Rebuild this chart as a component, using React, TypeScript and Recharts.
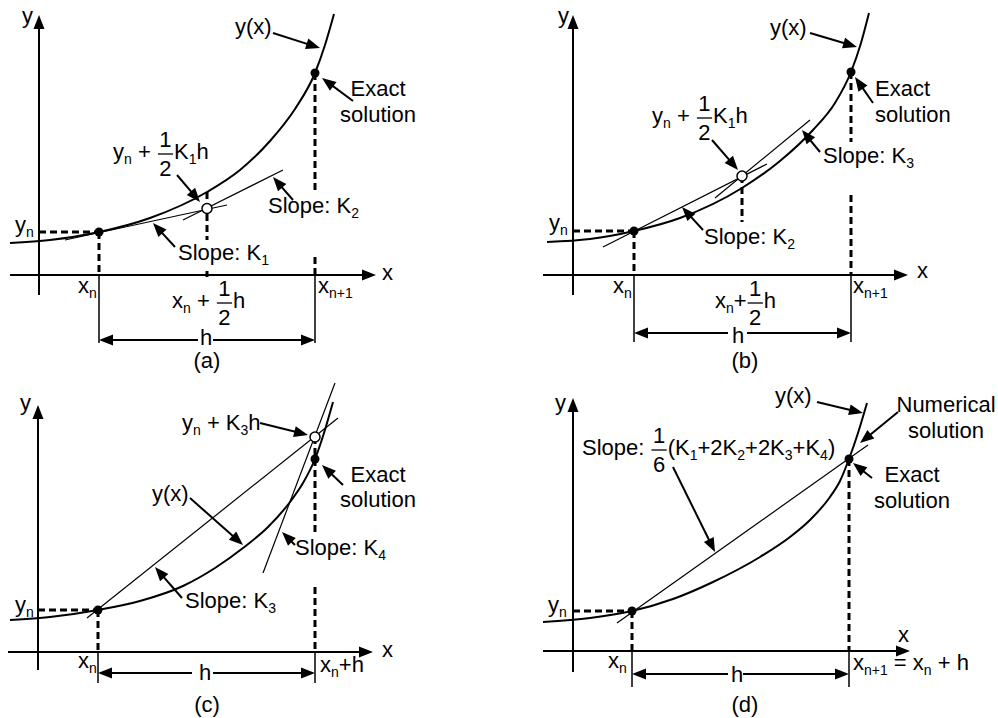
import React from 'react';
import { ComposedChart, Line, XAxis, YAxis, ReferenceLine, ReferenceDot } from 'recharts';

type Pt = { x: number; y: number };
type Part = { t: string; sub?: boolean } | { num: string; den: string };

// ---------------- data (panel units, origin at the axes crossing) ----------------
// Panel (a)
const curveA: Pt[] = [
  { x: -2.9, y: 3.2 }, { x: 1.1, y: 3.5 }, { x: 6.0, y: 4.3 }, { x: 11.1, y: 5.7 },
  { x: 16.8, y: 8.3 }, { x: 20.1, y: 10.5 }, { x: 23.1, y: 13.4 }, { x: 25.6, y: 16.6 },
  { x: 27.6, y: 20.2 }, { x: 28.6, y: 23.0 }, { x: 29.5, y: 26.1 },
];
const stepA = { xn: 6.0, yn: 4.3, xn1: 27.6, yn1: 20.2, xm: 16.8, ym: 6.65 };
const slopeK1A: Pt[] = [{ x: 2.6, y: 3.5 }, { x: 18.8, y: 7.0 }];
const slopeK2A: Pt[] = [{ x: 14.4, y: 5.5 }, { x: 24.4, y: 10.5 }];

// Panel (b)
const curveB: Pt[] = [
  { x: -2.6, y: 3.3 }, { x: 1.7, y: 3.6 }, { x: 6.1, y: 4.4 }, { x: 10.7, y: 5.7 },
  { x: 16.9, y: 8.7 }, { x: 20.7, y: 11.4 }, { x: 24.0, y: 14.5 }, { x: 26.2, y: 17.2 },
  { x: 27.8, y: 20.3 }, { x: 28.8, y: 23.2 }, { x: 29.6, y: 26.2 },
];
const stepB = { xn: 6.1, yn: 4.4, xn1: 27.8, yn1: 20.3, xm: 16.9, ym: 9.9 };
const slopeK2B: Pt[] = [{ x: 3.0, y: 2.8 }, { x: 19.4, y: 11.1 }];
const slopeK3B: Pt[] = [{ x: 14.2, y: 7.7 }, { x: 23.7, y: 15.5 }];

// Panel (c)
const curveC: Pt[] = [
  { x: -2.8, y: 3.2 }, { x: 1.2, y: 3.5 }, { x: 6.0, y: 4.2 }, { x: 10.2, y: 5.1 },
  { x: 14.5, y: 6.6 }, { x: 17.7, y: 8.4 }, { x: 20.5, y: 10.4 }, { x: 23.0, y: 12.5 },
  { x: 25.2, y: 15.0 }, { x: 26.5, y: 16.9 }, { x: 27.7, y: 19.3 }, { x: 28.6, y: 21.9 },
  { x: 29.5, y: 25.0 },
];
const stepC = { xn: 6.0, yn: 4.2, xn1: 27.7, yn1: 19.3, yk3: 21.5 };
const slopeK3C: Pt[] = [{ x: 4.9, y: 3.4 }, { x: 30.0, y: 23.4 }];
const slopeK4C: Pt[] = [{ x: 22.5, y: 7.9 }, { x: 29.7, y: 26.9 }];

// Panel (d)
const curveD: Pt[] = [
  { x: -3.0, y: 2.9 }, { x: 1.7, y: 3.3 }, { x: 5.9, y: 4.0 }, { x: 10.0, y: 5.2 },
  { x: 14.0, y: 6.9 }, { x: 18.7, y: 9.4 }, { x: 21.7, y: 11.4 }, { x: 23.7, y: 13.1 },
  { x: 25.7, y: 15.4 }, { x: 26.7, y: 17.0 }, { x: 27.6, y: 19.2 }, { x: 28.5, y: 21.8 },
  { x: 29.4, y: 24.8 },
];
const stepD = { xn: 5.9, yn: 4.0, xn1: 27.6, yn1: 19.2 };
const numericalD: Pt[] = [{ x: 4.4, y: 2.8 }, { x: 29.5, y: 20.6 }];

// ---------------- text helpers ----------------
const FS = 22;
const SFS = 14;
const FONT = '"Liberation Sans", Arial, Helvetica, sans-serif';
const CW: Record<string, number> = {
  ' ': 0.278, '(': 0.333, ')': 0.333, '+': 0.584, '=': 0.584, ':': 0.278,
  a: 0.556, b: 0.556, c: 0.5, d: 0.556, e: 0.556, h: 0.556, i: 0.222, l: 0.222, m: 0.833,
  n: 0.556, o: 0.556, p: 0.556, r: 0.333, s: 0.5, t: 0.278, u: 0.556, x: 0.5, y: 0.5,
  E: 0.667, K: 0.667, N: 0.722, S: 0.667,
};
const tw = (s: string, fs: number) => {
  let w = 0;
  for (const c of s) w += CW[c] ?? 0.556;
  return w * fs;
};
const T = (t: string): Part => ({ t });
const S = (t: string): Part => ({ t, sub: true });
const F = (num: string, den: string): Part => ({ num, den });

function RichText({ x, y, parts, anchor }: { x: number; y: number; parts: Part[]; anchor: string }) {
  let cur = 0;
  const lay: any[] = [];
  for (const p of parts) {
    if ('num' in p) {
      const w = Math.max(tw(p.num, FS), tw(p.den, FS)) + 3;
      lay.push({ kind: 'frac', x: cur + 1, w, p });
      cur += w + 2;
    } else {
      const fs = p.sub ? SFS : FS;
      lay.push({ kind: 'text', x: cur, p, fs });
      cur += tw(p.t, fs);
    }
  }
  const x0 = anchor === 'middle' ? x - cur / 2 : x;
  return (
    <g fontFamily={FONT} fill="#000">
      {lay.map((it, i) =>
        it.kind === 'frac' ? (
          <g key={i}>
            <text x={x0 + it.x + it.w / 2} y={y - 12} fontSize={FS} textAnchor="middle">{it.p.num}</text>
            <line x1={x0 + it.x} x2={x0 + it.x + it.w} y1={y - 5} y2={y - 5} stroke="#000" strokeWidth={1.3} />
            <text x={x0 + it.x + it.w / 2} y={y + 17} fontSize={FS} textAnchor="middle">{it.p.den}</text>
          </g>
        ) : (
          <text key={i} x={x0 + it.x} y={it.p.sub ? y + 5 : y} fontSize={it.fs} xmlSpace="preserve" style={{ whiteSpace: 'pre' }}>
            {it.p.t}
          </text>
        )
      )}
    </g>
  );
}

function ArrowShape(p: any) {
  const { x1, y1, x2, y2 } = p;
  const sw = p.strokeWidth ?? 2;
  const dx = x2 - x1;
  const dy = y2 - y1;
  const L = Math.hypot(dx, dy) || 1;
  const ux = dx / L;
  const uy = dy / L;
  const hl = 14;
  const hw = 5.5;
  const bx = x2 - ux * hl;
  const by = y2 - uy * hl;
  const pts = `${x2},${y2} ${bx - uy * hw},${by + ux * hw} ${bx + uy * hw},${by - ux * hw}`;
  return (
    <g>
      <line x1={x1} y1={y1} x2={bx + ux * 2} y2={by + uy * 2} stroke="#000" strokeWidth={sw} />
      <polygon points={pts} fill="#000" />
    </g>
  );
}

const segLine = (key: string, a: Pt, b: Pt, sw = 1.2) => (
  <ReferenceLine key={key} segment={[a, b]} ifOverflow="visible" stroke="#000" strokeWidth={sw} />
);
const dashLine = (key: string, a: Pt, b: Pt) => (
  <ReferenceLine key={key} segment={[a, b]} ifOverflow="visible" stroke="#000" strokeWidth={3} strokeDasharray="7 4" />
);
const arrowLine = (key: string, a: Pt, b: Pt, sw = 2) => (
  <ReferenceLine key={key} segment={[a, b]} ifOverflow="visible" stroke="#000" strokeWidth={sw} shape={ArrowShape} />
);
const dotAt = (key: string, x: number, y: number, open = false) => (
  <ReferenceDot key={key} x={x} y={y} r={open ? 5 : 4.5} fill={open ? '#fff' : '#000'} stroke="#000" strokeWidth={open ? 1.5 : 0} ifOverflow="visible" />
);
const label = (key: string, x: number, y: number, parts: Part[], anchor = 'start') => (
  <ReferenceDot
    key={key}
    x={x}
    y={y}
    r={0}
    ifOverflow="visible"
    shape={(p: any) => <RichText x={p.cx} y={p.cy} parts={parts} anchor={anchor} />}
  />
);
const curve = (key: string, data: Pt[]) => (
  <Line key={key} data={data} dataKey="y" type="monotone" stroke="#000" strokeWidth={2} dot={false} activeDot={false} isAnimationActive={false} />
);

function Panel({ left, top, width, height, xd, yd, children }: any) {
  return (
    <div style={{ position: 'absolute', left, top, width, height }}>
      <ComposedChart width={width} height={height} margin={{ top: 0, right: 0, bottom: 0, left: 0 }}>
        <XAxis type="number" dataKey="x" domain={xd} hide allowDataOverflow />
        <YAxis type="number" dataKey="y" domain={yd} hide allowDataOverflow />
        {children}
      </ComposedChart>
    </div>
  );
}

export default function App() {
  const A = stepA;
  const B = stepB;
  const C = stepC;
  const D = stepD;
  return (
    <div style={{ position: 'absolute', left: 0, top: 0, width: 998, height: 718, background: '#fff', overflow: 'hidden' }}>
      {/* ---------------- (a) ---------------- */}
      <Panel left={-1} top={0} width={480} height={377} xd={[-4, 44]} yd={[-10.2, 27.5]}>
        {[
          arrowLine('ya', { x: 0, y: -2.0 }, { x: 0, y: 26.0 }),
          arrowLine('xa', { x: -2.9, y: 0 }, { x: 33.7, y: 0 }),
          curve('c', curveA),
          segLine('k1', slopeK1A[0], slopeK1A[1]),
          segLine('k2', slopeK2A[0], slopeK2A[1]),
          dashLine('hy', { x: 0, y: A.yn }, { x: A.xn, y: A.yn }),
          dashLine('vxn', { x: A.xn, y: A.yn }, { x: A.xn, y: 0 }),
          segLine('exn', { x: A.xn, y: 0 }, { x: A.xn, y: -6.8 }, 1.5),
          dashLine('vx1a', { x: A.xn1, y: A.yn1 }, { x: A.xn1, y: 8.2 }),
          dashLine('vx1b', { x: A.xn1, y: 1.8 }, { x: A.xn1, y: 0 }),
          segLine('ex1', { x: A.xn1, y: 0 }, { x: A.xn1, y: -6.8 }, 1.5),
          dashLine('vm', { x: A.xm, y: 8.3 }, { x: A.xm, y: 3.5 }),
          dashLine('vm2', { x: A.xm, y: 0.4 }, { x: A.xm, y: -0.2 }),
          arrowLine('h1', { x: 15.9, y: -6.5 }, { x: A.xn, y: -6.5 }),
          arrowLine('h2', { x: 17.4, y: -6.5 }, { x: A.xn1, y: -6.5 }),
          dotAt('d1', A.xn, A.yn),
          dotAt('d2', A.xn1, A.yn1),
          dotAt('d3', A.xm, A.ym, true),
          arrowLine('ayx', { x: 23.4, y: 24.2 }, { x: 28.1, y: 22.7 }),
          arrowLine('aex', { x: 31.4, y: 17.4 }, { x: 28.3, y: 19.7 }),
          arrowLine('ayk', { x: 13.8, y: 10.0 }, { x: 16.1, y: 7.3 }),
          arrowLine('ak2', { x: 25.4, y: 7.5 }, { x: 23.4, y: 9.8 }),
          arrowLine('ak1', { x: 13.6, y: 2.8 }, { x: 11.4, y: 5.2 }),
          label('ly', -1.7, 25.2, [T('y')]),
          label('lx', 34.3, -0.5, [T('x')]),
          label('lyn', -2.4, 4.3, [T('y'), S('n')]),
          label('lxn', 3.9, -1.8, [T('x'), S('n')]),
          label('lxn1', 27.9, -1.8, [T('x'), S('n+1')]),
          label('lmid', 13.3, -3.3, [T('x'), S('n'), T(' + '), F('1', '2'), T('h')]),
          label('lyk', 7.4, 11.6, [T('y'), S('n'), T(' + '), F('1', '2'), T('K'), S('1'), T('h')]),
          label('lyx', 19.6, 24.1, [T('y(x)')]),
          label('le1', 33.9, 17.9, [T('Exact')], 'middle'),
          label('le2', 33.9, 15.3, [T('solution')], 'middle'),
          label('lk2', 22.9, 6.2, [T('Slope: K'), S('2')]),
          label('lk1', 13.9, 1.5, [T('Slope: K'), S('1')]),
          label('lh', 16.7, -7.0, [T('h')], 'middle'),
          label('lcap', 16.8, -9.3, [T('(a)')], 'middle'),
        ]}
      </Panel>

      {/* ---------------- (b) ---------------- */}
      <Panel left={533} top={0} width={465} height={377} xd={[-4, 42.5]} yd={[-10.2, 27.5]}>
        {[
          arrowLine('ya', { x: 0, y: -2.0 }, { x: 0, y: 26.0 }),
          arrowLine('xa', { x: -3.0, y: 0 }, { x: 33.5, y: 0 }),
          curve('c', curveB),
          segLine('k2', slopeK2B[0], slopeK2B[1]),
          segLine('k3', slopeK3B[0], slopeK3B[1]),
          dashLine('hy', { x: 0, y: B.yn }, { x: B.xn, y: B.yn }),
          dashLine('vxn', { x: B.xn, y: B.yn }, { x: B.xn, y: 0 }),
          segLine('exn', { x: B.xn, y: 0 }, { x: B.xn, y: -6.7 }, 1.5),
          dashLine('vx1a', { x: B.xn1, y: B.yn1 }, { x: B.xn1, y: 13.3 }),
          dashLine('vx1b', { x: B.xn1, y: 8.0 }, { x: B.xn1, y: 0 }),
          segLine('ex1', { x: B.xn1, y: 0 }, { x: B.xn1, y: -6.7 }, 1.5),
          dashLine('vm', { x: B.xm, y: B.ym }, { x: B.xm, y: 5.3 }),
          arrowLine('h1', { x: 15.5, y: -5.8 }, { x: B.xn, y: -5.8 }),
          arrowLine('h2', { x: 17.4, y: -5.8 }, { x: B.xn1, y: -5.8 }),
          dotAt('d1', B.xn, B.yn),
          dotAt('d2', B.xn1, B.yn1),
          dotAt('d3', B.xm, B.ym, true),
          arrowLine('ayx', { x: 23.7, y: 24.2 }, { x: 28.4, y: 22.8 }),
          arrowLine('aex', { x: 30.0, y: 17.2 }, { x: 28.2, y: 19.8 }),
          arrowLine('ayk', { x: 13.9, y: 13.5 }, { x: 16.5, y: 10.5 }),
          arrowLine('ak3', { x: 24.7, y: 12.3 }, { x: 22.9, y: 14.5 }),
          arrowLine('ak2', { x: 13.0, y: 4.5 }, { x: 10.9, y: 6.8 }),
          label('ly', -1.5, 25.2, [T('y')]),
          label('lx', 34.4, -0.3, [T('x')]),
          label('lyn', -2.4, 4.5, [T('y'), S('n')]),
          label('lxn', 4.0, -1.8, [T('x'), S('n')]),
          label('lxn1', 28.0, -1.8, [T('x'), S('n+1')]),
          label('lmid', 14.2, -3.3, [T('x'), S('n'), T('+'), F('1', '2'), T('h')]),
          label('lyk', 7.9, 15.2, [T('y'), S('n'), T(' + '), F('1', '2'), T('K'), S('1'), T('h')]),
          label('lyx', 19.7, 24.0, [T('y(x)')]),
          label('le1', 30.2, 17.9, [T('Exact')]),
          label('le2', 30.2, 15.3, [T('solution')]),
          label('lk3', 25.0, 11.2, [T('Slope: K'), S('3')]),
          label('lk2', 13.1, 3.1, [T('Slope: K'), S('2')]),
          label('lh', 16.5, -6.8, [T('h')], 'middle'),
          label('lcap', 17.2, -9.3, [T('(b)')], 'middle'),
        ]}
      </Panel>

      {/* ---------------- (c) ---------------- */}
      <Panel left={-2} top={377} width={480} height={341} xd={[-4, 44]} yd={[-6.6, 27.5]}>
        {[
          arrowLine('ya', { x: 0, y: -1.8 }, { x: 0, y: 24.7 }),
          arrowLine('xa', { x: -3.0, y: 0 }, { x: 33.5, y: 0 }),
          curve('c', curveC),
          segLine('k3', slopeK3C[0], slopeK3C[1]),
          segLine('k4', slopeK4C[0], slopeK4C[1]),
          dashLine('hy', { x: 0, y: C.yn }, { x: C.xn, y: C.yn }),
          dashLine('vxn', { x: C.xn, y: C.yn }, { x: C.xn, y: 0 }),
          segLine('exn', { x: C.xn, y: 0 }, { x: C.xn, y: -3.1 }, 1.5),
          dashLine('vx1a', { x: C.xn1, y: C.yk3 }, { x: C.xn1, y: 11.9 }),
          dashLine('vx1b', { x: C.xn1, y: 6.5 }, { x: C.xn1, y: 0 }),
          segLine('ex1', { x: C.xn1, y: 0 }, { x: C.xn1, y: -3.1 }, 1.5),
          arrowLine('h1', { x: 15.4, y: -2.1 }, { x: C.xn, y: -2.1 }),
          arrowLine('h2', { x: 17.5, y: -2.1 }, { x: C.xn1, y: -2.1 }),
          dotAt('d1', C.xn, C.yn),
          dotAt('d2', C.xn1, C.yn1),
          dotAt('d3', C.xn1, C.yk3, true),
          arrowLine('ayk', { x: 22.2, y: 22.9 }, { x: 27.0, y: 21.7 }),
          arrowLine('aex', { x: 30.5, y: 16.7 }, { x: 28.4, y: 18.7 }),
          arrowLine('ayx', { x: 15.2, y: 15.4 }, { x: 20.5, y: 10.7 }),
          arrowLine('ak4', { x: 25.7, y: 10.7 }, { x: 24.4, y: 12.0 }),
          arrowLine('ak3', { x: 14.4, y: 5.4 }, { x: 11.7, y: 8.5 }),
          label('ly', -1.8, 24.2, [T('y')]),
          label('lx', 34.4, -0.5, [T('x')]),
          label('lyn', -2.3, 4.0, [T('y'), S('n')]),
          label('lxn', 4.0, -1.6, [T('x'), S('n')]),
          label('lxnh', 28.2, -2.0, [T('x'), S('n'), T('+h')]),
          label('lyk', 14.4, 22.2, [T('y'), S('n'), T(' + K'), S('3'), T('h')]),
          label('le1', 34.0, 17.0, [T('Exact')], 'middle'),
          label('le2', 34.0, 14.5, [T('solution')], 'middle'),
          label('lyx', 11.4, 15.1, [T('y(x)')]),
          label('lk4', 25.7, 9.7, [T('Slope: K'), S('4')]),
          label('lk3', 14.7, 4.4, [T('Slope: K'), S('3')]),
          label('lh', 16.7, -2.8, [T('h')], 'middle'),
          label('lcap', 16.9, -6.0, [T('(c)')], 'middle'),
        ]}
      </Panel>

      {/* ---------------- (d) ---------------- */}
      <Panel left={533} top={376} width={465} height={342} xd={[-4, 42.5]} yd={[-6.7, 27.5]}>
        {[
          arrowLine('ya', { x: 0, y: -2.1 }, { x: 0, y: 25.3 }),
          arrowLine('xa', { x: -3.0, y: 0 }, { x: 33.7, y: 0 }),
          curve('c', curveD),
          segLine('num', numericalD[0], numericalD[1]),
          dashLine('hy', { x: 0, y: D.yn }, { x: D.xn, y: D.yn }),
          dashLine('vxn', { x: D.xn, y: D.yn }, { x: D.xn, y: 0 }),
          segLine('exn', { x: D.xn, y: 0 }, { x: D.xn, y: -3.6 }, 1.5),
          dashLine('vx1', { x: D.xn1, y: D.yn1 }, { x: D.xn1, y: 0 }),
          segLine('ex1', { x: D.xn1, y: 0 }, { x: D.xn1, y: -3.6 }, 1.5),
          arrowLine('h1', { x: 15.5, y: -2.3 }, { x: D.xn, y: -2.3 }),
          arrowLine('h2', { x: 17.0, y: -2.3 }, { x: D.xn1, y: -2.3 }),
          dotAt('d1', D.xn, D.yn),
          dotAt('d2', D.xn1, D.yn1),
          arrowLine('asl', { x: 10.0, y: 18.4 }, { x: 14.2, y: 9.9 }),
          arrowLine('ayx', { x: 24.4, y: 24.9 }, { x: 29.0, y: 23.8 }),
          arrowLine('anu', { x: 32.5, y: 23.9 }, { x: 28.7, y: 20.8 }),
          arrowLine('aex', { x: 29.9, y: 17.3 }, { x: 28.0, y: 18.8 }),
          label('ly', -1.8, 24.1, [T('y')]),
          label('lx', 32.5, 0.9, [T('x')]),
          label('lyn', -2.5, 3.9, [T('y'), S('n')]),
          label('lxn', 3.5, -1.7, [T('x'), S('n')]),
          label('lxn1', 28.0, -1.9, [T('x'), S('n+1'), T(' = x'), S('n'), T(' + h')]),
          label('lsl', 0.9, 19.6, [T('Slope: '), F('1', '6'), T('(K'), S('1'), T('+2K'), S('2'), T('+2K'), S('3'), T('+K'), S('4'), T(')')]),
          label('lyx', 20.2, 24.8, [T('y(x)')]),
          label('ln1', 37.3, 23.9, [T('Numerical')], 'middle'),
          label('ln2', 37.3, 21.3, [T('solution')], 'middle'),
          label('le1', 33.9, 16.9, [T('Exact')], 'middle'),
          label('le2', 33.9, 14.3, [T('solution')], 'middle'),
          label('lh', 16.4, -3.1, [T('h')], 'middle'),
          label('lcap', 17.2, -6.1, [T('(d)')], 'middle'),
        ]}
      </Panel>
    </div>
  );
}
